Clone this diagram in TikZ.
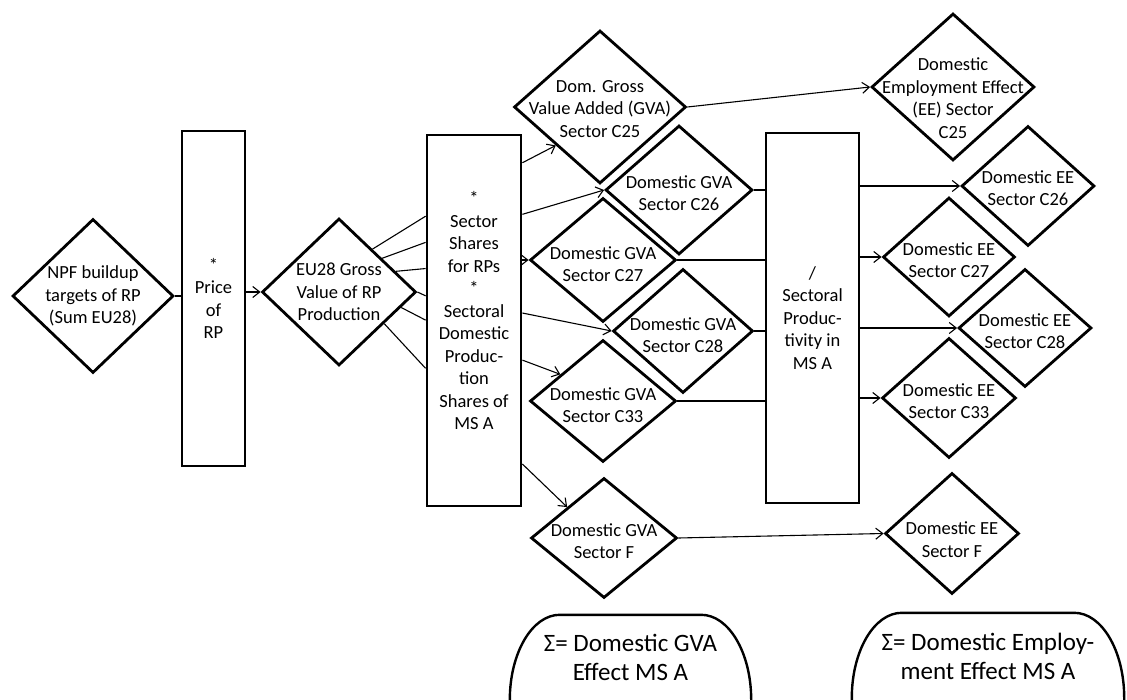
\documentclass[tikz,border=0pt]{standalone}
\usepackage{fontspec}
\setmainfont{Carlito}
\usetikzlibrary{shapes.geometric,arrows.meta,calc}
\newcommand{\diafont}{\fontsize{18.5}{22.5}\selectfont}
\newcommand{\sumfont}{\fontsize{25}{28.5}\selectfont}
\begin{document}
\begin{tikzpicture}[x=1pt,y=-1pt,
  dia/.style={diamond, draw, line width=2.8pt, inner sep=0pt},
  dlab/.style={font=\diafont, align=center, inner sep=0pt},
  bx/.style={rectangle, draw, line width=2.8pt, inner sep=0pt, align=center, font=\diafont},
  conn/.style={line width=1.1pt},
  arr/.style={conn, -{Straight Barb[length=7pt,width=11pt]}},
  sumline/.style={line width=2.4pt},
  sumlab/.style={font=\sumfont, align=center, inner sep=0pt}]
\useasboundingbox (0,0) rectangle (1127,700);
\clip (0,0) rectangle (1127,700);

% left part
\node[dia, minimum width=161pt, minimum height=154pt,
  label={[dlab]center:{NPF buildup\\targets of RP\\(Sum EU28)}}] (npf) at (93,296) {};
\node[bx, minimum width=63pt, minimum height=335pt] (price) at (213.5,298.5) {*\\Price\\of\\RP};
\node[dia, minimum width=154pt, minimum height=147pt,
  label={[dlab]center:{EU28 Gross\\Value of RP\\Production}}] (eu) at (339,292) {};
\node[bx, minimum width=94pt, minimum height=371pt,
  label={[dlab,yshift=10pt]center:{*\\Sector\\Shares\\for RPs\\*\\Sectoral\\Domestic\\Produc-\\tion\\Shares of\\MS A}}] (sr) at (474,320.5) {};

% GVA diamonds
\node[dia, minimum width=172pt, minimum height=153pt,
  label={[dlab,yshift=-2pt]center:{Dom. Gross\\Value Added (GVA)\\Sector C25}}] (c25) at (600,107) {};
\node[dia, minimum width=147pt, minimum height=129pt,
  label={[dlab,yshift=-3pt]center:{Domestic GVA\\Sector C26}}] (c26) at (679,190) {};
\node[dia, minimum width=146pt, minimum height=124pt,
  label={[dlab,yshift=-4pt]center:{Domestic GVA\\Sector C27}}] (c27) at (603,260) {};
\node[dia, minimum width=140pt, minimum height=124pt,
  label={[dlab,yshift=-4pt]center:{Domestic GVA\\Sector C28}}] (c28) at (683,331) {};
\node[dia, minimum width=146pt, minimum height=122pt,
  label={[dlab,yshift=-4pt]center:{Domestic GVA\\Sector C33}}] (c33) at (603,401) {};
\node[dia, minimum width=146pt, minimum height=120pt,
  label={[dlab,yshift=-3pt]center:{Domestic GVA\\Sector F}}] (cf) at (604,538) {};

% productivity
\node[bx, minimum width=93pt, minimum height=370pt] (pr) at (812.5,318) {/\\Sectoral\\Produc-\\tivity in\\MS A};

% EE diamonds
\node[dia, minimum width=163pt, minimum height=147pt,
  label={[dlab,yshift=-11pt]center:{Domestic\\Employment Effect\\(EE) Sector\\C25}}] (e25) at (953,87) {};
\node[dia, minimum width=133pt, minimum height=120pt,
  label={[dlab,yshift=-2pt]center:{Domestic EE\\Sector C26}}] (e26) at (1028,186) {};
\node[dia, minimum width=132pt, minimum height=119pt,
  label={[dlab,yshift=-3pt]center:{Domestic EE\\Sector C27}}] (e27) at (949,257) {};
\node[dia, minimum width=133pt, minimum height=118pt,
  label={[dlab,yshift=-3pt]center:{Domestic EE\\Sector C28}}] (e28) at (1025,328) {};
\node[dia, minimum width=134pt, minimum height=120pt,
  label={[dlab,yshift=-3pt]center:{Domestic EE\\Sector C33}}] (e33) at (949,398) {};
\node[dia, minimum width=134pt, minimum height=121pt,
  label={[dlab,yshift=-6pt]center:{Domestic EE\\Sector F}}] (ef) at (952,533.5) {};

% sum boxes
\node[minimum width=241pt, minimum height=175pt, inner sep=0pt,
  label={[sumlab,yshift=45pt]center:{Σ= Domestic GVA\\Effect MS A}}] (s1) at (630.5,702.5) {};
\node[minimum width=272pt, minimum height=177pt, inner sep=0pt,
  label={[sumlab,yshift=45pt]center:{Σ= Domestic Employ-\\ment Effect MS A}}] (s2) at (988,701.5) {};
\foreach \s in {s1,s2}{
  \draw[sumline] ([xshift=50pt]\s.north west) -- ([xshift=-50pt]\s.north east)
    arc[start angle=90,end angle=0,x radius=50pt,y radius=85pt]
    -- ([yshift=85pt]\s.south east)
    arc[start angle=0,end angle=-90,x radius=50pt,y radius=85pt]
    -- ([xshift=50pt]\s.south west)
    arc[start angle=270,end angle=180,x radius=50pt,y radius=85pt]
    -- ([yshift=-85pt]\s.north west)
    arc[start angle=180,end angle=90,x radius=50pt,y radius=85pt] -- cycle;
}

% connectors left
\draw[conn] (npf.east) -- (npf.east -| price.west);
\draw[arr] (eu.west -| price.east) -- (eu.west);
\draw[conn] (eu.52) -- ($(sr.north west)!0.221!(sr.south west)$);
\draw[conn] (eu.38) -- ($(sr.north west)!0.291!(sr.south west)$);
\draw[conn] (eu.20) -- ($(sr.north west)!0.361!(sr.south west)$);
\draw[conn] (eu.east) -- ($(sr.north west)!0.434!(sr.south west)$);
\draw[conn] (eu.-14) -- ($(sr.north west)!0.499!(sr.south west)$);
\draw[conn] (eu.-35) -- ($(sr.north west)!0.628!(sr.south west)$);

% sector -> GVA
\draw[arr] ($(sr.north east)!0.078!(sr.south east)$) -- (c25.221);
\draw[arr] ($(sr.north east)!0.216!(sr.south east)$) -- (c26.west);
\draw[arr] (c27.west -| sr.east) -- (c27.west);
\draw[arr] ($(sr.north east)!0.48!(sr.south east)$) -- (c28.west);
\draw[arr] ($(sr.north east)!0.606!(sr.south east)$) -- (c33.148);
\draw[arr] ($(sr.north east)!0.884!(sr.south east)$) -- (cf.140);

% GVA -> productivity / EE
\draw[arr] (c25.east) -- (e25.west);
\draw[conn] (c26.east) -- (c26.east -| pr.west);
\draw[conn] (c27.east) -- (c27.east -| pr.west);
\draw[conn] (c28.east) -- (c28.east -| pr.west);
\draw[conn] (c33.east) -- (c33.east -| pr.west);
\draw[arr] (cf.east) -- (ef.west);

% productivity -> EE
\draw[arr] (e26.west -| pr.east) -- (e26.west);
\draw[arr] (e27.west -| pr.east) -- (e27.west);
\draw[arr] (e28.west -| pr.east) -- (e28.west);
\draw[arr] (e33.west -| pr.east) -- (e33.west);
\end{tikzpicture}
\end{document}
